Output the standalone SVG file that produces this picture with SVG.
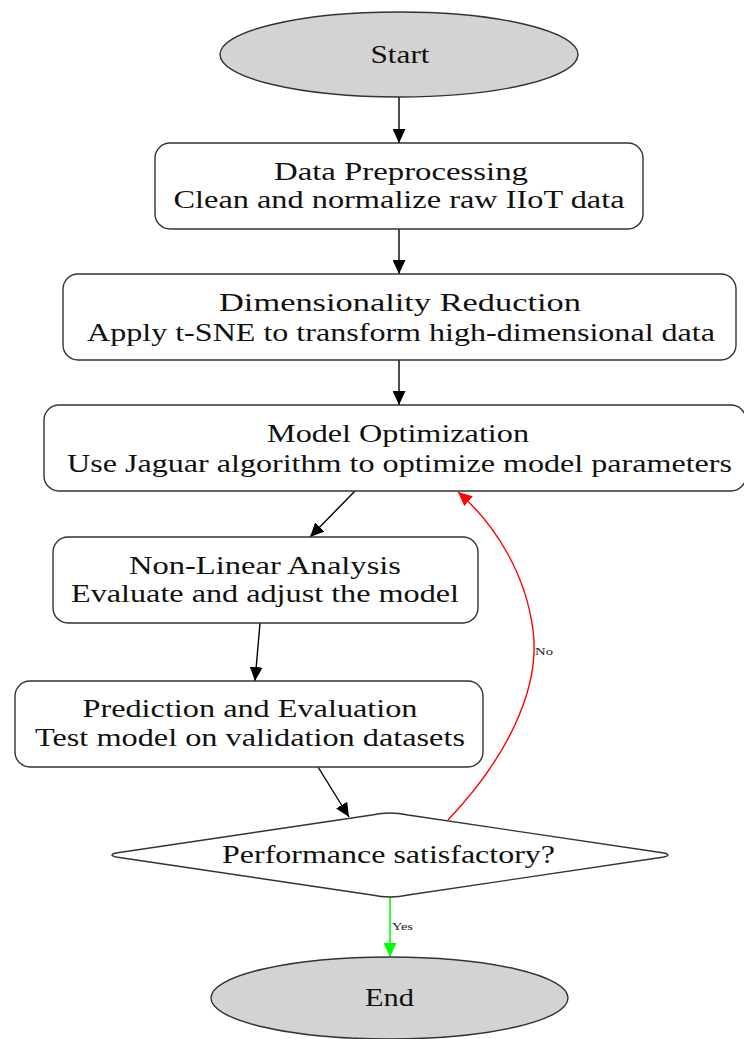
<svg xmlns="http://www.w3.org/2000/svg" width="744" height="1039" viewBox="0 0 744 1039">
<style>
.n{fill:#ffffff;stroke:#333333;stroke-width:1.4}
.t{fill:#d3d3d3;stroke:#333333;stroke-width:1.4}
.lbl{font-family:"Liberation Serif","Times New Roman",serif;font-size:25px;fill:#111111;text-anchor:middle}
.sm{font-family:"Liberation Serif","Times New Roman",serif;font-size:11px;fill:#222222}
.e{fill:none;stroke:#000000;stroke-width:1.4}
</style>
<defs>
<marker id="ab" markerUnits="userSpaceOnUse" markerWidth="15" markerHeight="13" refX="14" refY="6.5" orient="auto"><path d="M0,0 L14,6.5 L0,13 z" fill="#000000"/></marker>
<marker id="ar" markerUnits="userSpaceOnUse" markerWidth="15" markerHeight="13" refX="14" refY="6.5" orient="auto"><path d="M0,0 L14,6.5 L0,13 z" fill="#ff0000"/></marker>
<marker id="ag" markerUnits="userSpaceOnUse" markerWidth="15" markerHeight="13" refX="14" refY="6.5" orient="auto"><path d="M0,0 L14,6.5 L0,13 z" fill="#00ff00"/></marker>
</defs>
<rect width="744" height="1039" fill="#ffffff"/>
<g id="connectors">
<line class="e" x1="399" y1="97" x2="399" y2="143" marker-end="url(#ab)"/>
<line class="e" x1="399" y1="229" x2="399" y2="274" marker-end="url(#ab)"/>
<line class="e" x1="399" y1="360" x2="399" y2="405" marker-end="url(#ab)"/>
<line class="e" x1="355" y1="491" x2="310" y2="537" marker-end="url(#ab)"/>
<line class="e" x1="260" y1="623" x2="255" y2="681" marker-end="url(#ab)"/>
<line class="e" x1="318" y1="767" x2="349" y2="817" marker-end="url(#ab)"/>
<path d="M448,820 C505,760 541,690 533,630 C526,575 496,525 458,492" fill="none" stroke="#ff0000" stroke-width="1.4" marker-end="url(#ar)"/>
<text class="sm" x="535" y="655" textLength="18" lengthAdjust="spacingAndGlyphs">No</text>
<line x1="390" y1="897" x2="390" y2="957" stroke="#00ff00" stroke-width="1.6" marker-end="url(#ag)"/>
<text class="sm" x="392" y="930" textLength="21" lengthAdjust="spacingAndGlyphs">Yes</text>
</g>
<g id="start">
<ellipse class="t" cx="399" cy="54.5" rx="179" ry="42.5"/>
<text class="lbl" x="400" y="63" textLength="59" lengthAdjust="spacingAndGlyphs">Start</text>
</g>
<g id="preprocessing">
<rect class="n" x="155" y="143" width="488" height="86" rx="15"/>
<text class="lbl" x="401" y="180" textLength="254" lengthAdjust="spacingAndGlyphs">Data Preprocessing</text>
<text class="lbl" x="399" y="208" textLength="451" lengthAdjust="spacingAndGlyphs">Clean and normalize raw IIoT data</text>
</g>
<g id="reduction">
<rect class="n" x="63" y="274" width="673" height="86" rx="15"/>
<text class="lbl" x="400" y="311" textLength="362" lengthAdjust="spacingAndGlyphs">Dimensionality Reduction</text>
<text class="lbl" x="401" y="341" textLength="628" lengthAdjust="spacingAndGlyphs">Apply t-SNE to transform high-dimensional data</text>
</g>
<g id="optimization">
<rect class="n" x="44" y="405" width="702" height="86" rx="15"/>
<text class="lbl" x="398" y="442" textLength="262" lengthAdjust="spacingAndGlyphs">Model Optimization</text>
<text class="lbl" x="399.5" y="472" textLength="665" lengthAdjust="spacingAndGlyphs">Use Jaguar algorithm to optimize model parameters</text>
</g>
<g id="nonlinear">
<rect class="n" x="53" y="537" width="425" height="86" rx="15"/>
<text class="lbl" x="265" y="574" textLength="272" lengthAdjust="spacingAndGlyphs">Non-Linear Analysis</text>
<text class="lbl" x="265" y="602" textLength="388" lengthAdjust="spacingAndGlyphs">Evaluate and adjust the model</text>
</g>
<g id="prediction">
<rect class="n" x="15" y="681" width="468" height="86" rx="15"/>
<text class="lbl" x="250" y="717" textLength="335" lengthAdjust="spacingAndGlyphs">Prediction and Evaluation</text>
<text class="lbl" x="250" y="746" textLength="430" lengthAdjust="spacingAndGlyphs">Test model on validation datasets</text>
</g>
<g id="decision">
<path class="n" d="M372,815 Q390,811 408,815 L664,853 Q672,855 664,857 L408,895 Q390,899 372,895 L116,857 Q108,855 116,853 Z"/>
<text class="lbl" x="388.5" y="863" textLength="333" lengthAdjust="spacingAndGlyphs">Performance satisfactory?</text>
</g>
<g id="end">
<ellipse class="t" cx="389.5" cy="998" rx="178.5" ry="41"/>
<text class="lbl" x="389.5" y="1006" textLength="49" lengthAdjust="spacingAndGlyphs">End</text>
</g>
</svg>
